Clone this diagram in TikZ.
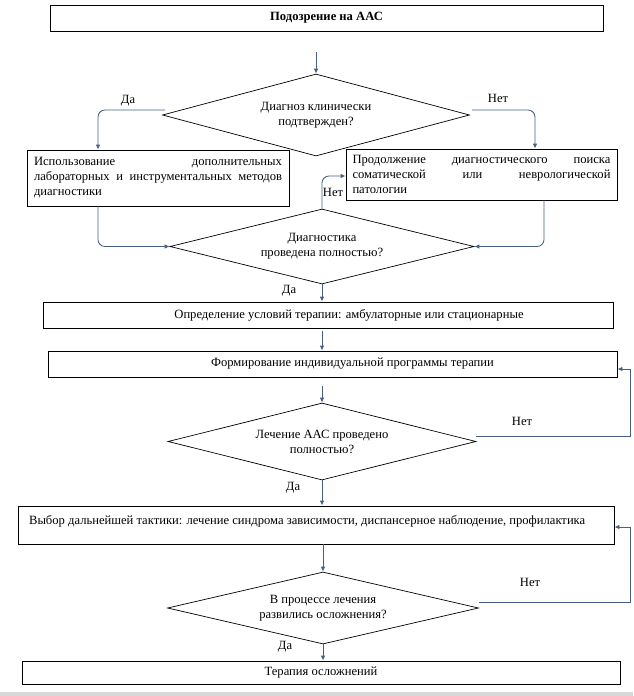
\documentclass[tikz,border=0pt]{standalone}
\usepackage{fontspec}
\setmainfont{Liberation Serif}
\usetikzlibrary{shapes.geometric,arrows.meta,calc}
\definecolor{conn}{RGB}{70,95,130}
\begin{document}
\begin{tikzpicture}[x=1pt,y=-1pt,
  font=\fontsize{12.6}{15}\selectfont,
  box/.style={draw=black,line width=0.85pt,rectangle,inner sep=0pt},
  dia/.style={draw=black,line width=0.7pt,diamond,aspect=3.8,inner sep=0pt,align=center},
  arr/.style={draw=conn,line width=0.85pt,-{Latex[length=5pt,width=4.5pt]}},
  lbl/.style={inner sep=0pt}
]
\useasboundingbox (0,0) rectangle (633,696);
\fill[gray!30] (0,692) rectangle (633,696);

% nodes
\node[box,minimum width=553pt,minimum height=26pt] (b1) at (326.5,18) {\bfseries Подозрение на ААС};
\node[dia,minimum width=307pt,minimum height=82pt] (d1) at (316,115) {Диагноз клинически\\подтвержден?};
\node[box,minimum width=262pt,minimum height=56pt,text width=248pt,align=left] (b2) at (158,178)
  {\makebox[248pt]{Использование\hfill дополнительных}\\\makebox[248pt]{лабораторных\hfill и\hfill инструментальных\hfill методов}\\диагностики};
\node[box,minimum width=271pt,minimum height=51pt,text width=258pt,align=left] (b3) at (481.5,174.5)
  {\makebox[258pt]{Продолжение\hfill диагностического\hfill поиска}\\\makebox[258pt]{соматической\hfill или\hfill неврологической}\\патологии};
\node[dia,minimum width=304pt,minimum height=75pt] (d2) at (322,246.5) {Диагностика\\проведена полностью?};
\node[box,minimum width=570pt,minimum height=26pt,label={[xshift=21pt]center:Определение условий терапии: амбулаторные или стационарные}] (b4) at (328,315) {};
\node[box,minimum width=569pt,minimum height=26pt,label={[xshift=20pt]center:Формирование индивидуальной программы терапии}] (b5) at (332.5,364) {};
\node[dia,minimum width=308pt,minimum height=77pt] (d3) at (322,441.5) {Лечение ААС проведено\\полностью?};
\node[box,minimum width=596pt,minimum height=38pt,label={[anchor=west,xshift=8pt,yshift=4pt]west:Выбор дальнейшей тактики: лечение синдрома зависимости, диспансерное наблюдение, профилактика}] (b6) at (316,525) {};
\node[dia,minimum width=311pt,minimum height=72pt] (d4) at (323,608) {В процессе лечения\\развились осложнения?};
\node[box,minimum width=598pt,minimum height=23pt] (b7) at (321,672.5) {Терапия осложнений};

% labels
\node[lbl] (l1) at (128,101) {Да};
\node[lbl] (l2) at (498,98) {Нет};
\node[lbl] (l3) at (333,192) {Нет};
\node[lbl] (l4) at (289,291) {Да};
\node[lbl] (l5) at (522,421) {Нет};
\node[lbl] (l6) at (293,488) {Да};
\node[lbl] (l7) at (530,582) {Нет};
\node[lbl] (l8) at (285,647) {Да};

% connectors
\draw[arr] ($(b1.south -| d1.north)+(0,21)$) -- (d1.north);
\draw[arr,rounded corners=7pt] ($(d1.west)+(3,-5)$) -| ($(b2.north)+(-60,0)$);
\draw[arr,rounded corners=7pt] ($(d1.east)+(2,-5)$) -| ($(b3.north)+(53.5,0)$);
\draw[arr,rounded corners=7pt] ($(b2.south)+(-60,0)$) |- (d2.west);
\draw[arr,rounded corners=7pt] ($(b3.south)+(62.5,0)$) |- (d2.east);
\draw[arr,rounded corners=7pt] (d2.north) |- ($(b3.west)+(0,1.5)$);
\draw[arr] (d2.south) -- (d2.south |- b4.north);
\draw[arr] ($(b4.south -| d3.north)+(0,3)$) -- (b5.north -| d3.north);
\draw[arr] ($(b5.south -| d3.north)+(0,9)$) -- (d3.north);
\draw[arr] (d3.south) -- (d3.south |- b6.north);
\draw[arr] ($(d3.east)+(0,-5)$) -| ($(b5.east)+(13,5)$) -- ($(b5.east)+(0,5)$);
\draw[arr] (b6.south -| d4.north) -- (d4.north);
\draw[arr] (d4.south) -- (d4.south |- b7.north);
\draw[arr] ($(d4.east)+(0,-6)$) -| ($(b6.east)+(16,2)$) -- ($(b6.east)+(0,2)$);
\end{tikzpicture}
\end{document}
